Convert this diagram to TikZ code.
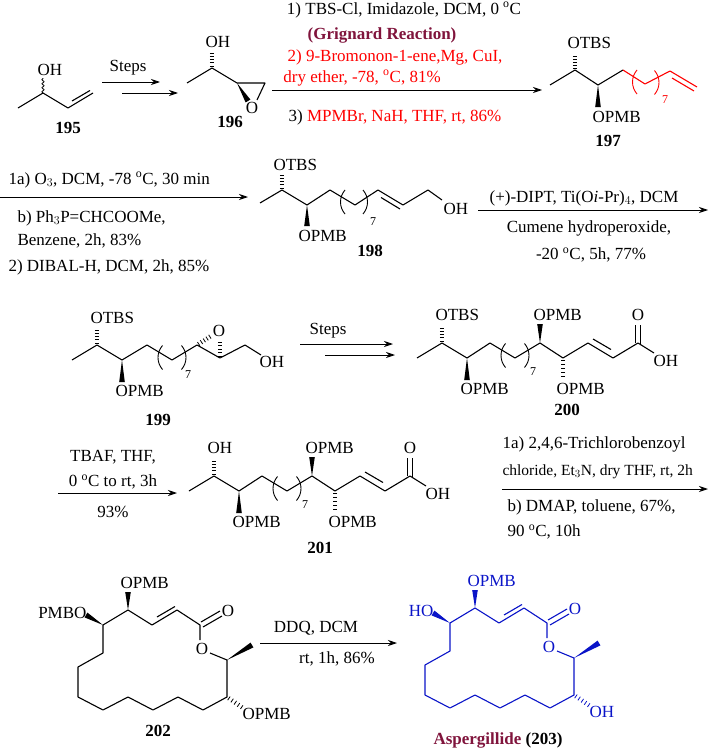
\documentclass[tikz,border=0pt]{standalone}
\usepackage{fontspec}
\setmainfont{Liberation Serif}
\usetikzlibrary{calc,arrows.meta,decorations.pathmorphing}
\definecolor{maroon}{RGB}{128,20,60}
\definecolor{cblue}{RGB}{10,20,200}
\newcommand\fs{\fontsize{17}{19}\selectfont}
\newcommand\dg{\textsuperscript{o}}
% stereo bonds and repeat brackets
\newcommand\wdg[2]{\fill ($(#1)$) -- ($(#2)!2.8pt!90:(#1)$) -- ($(#2)!2.8pt!-90:(#1)$) -- cycle;}
\newcommand\hsh[2]{\foreach \t in {0.12,0.32,0.52,0.72,0.92}{\path ($(#1)!\t!(#2)$) coordinate (hh);
  \draw[line width=0.8pt] ($(hh)!2.2pt!90:(#2)$) -- ($(hh)!2.2pt!-90:(#2)$);}}
\newcommand\lpar[1]{\draw[line width=0.9pt] ($(#1)+(3,-7)$) .. controls ($(#1)+(-3,0)$) and ($(#1)+(-3,10)$) .. ($(#1)+(3,17)$);}
\newcommand\rpar[1]{\draw[line width=0.9pt] ($(#1)+(-3,-7)$) .. controls ($(#1)+(3,0)$) and ($(#1)+(3,10)$) .. ($(#1)+(-3,17)$);}
\tikzset{
  grp/.style={inner sep=0pt, font=\fs},
  cmpd/.style={inner sep=0pt, font=\fs\bfseries},
  cond/.style={inner sep=0pt, font=\fs},
  sub/.style={inner sep=0pt, font=\fontsize{12}{13}\selectfont},
  rxn/.style={-{Stealth[length=9pt,width=6pt]}, line width=0.9pt},
}
% hydroxy acid skeleton (200 / 201)
\newcommand\acidchain[2]{%
  \draw (417,358) -- (442,343) -- (467,358) -- (490,343) -- (515,358) -- (540,343) -- (563,358) -- (588,343) -- (613,358) -- (638,343) -- (654,353);
  \draw (593,339) -- (611,349.5);
  \draw (635.5,343) -- (635.5,325) (640.5,344) -- (640.5,325);
  \hsh{442,343}{442,327} \wdg{467,358}{467,380}
  \wdg{540,343}{540,324} \hsh{563,358}{563,378}
  \lpar{502.5,350.5} \rpar{527.5,350.5}
  \node[sub] (#2sub) at (533,372) {7};
  \node[grp, anchor=west] (#2a) at (435,315) {#1};
  \node[grp, anchor=west] (#2b) at (460,389) {OPMB};
  \node[grp, anchor=west] (#2c) at (533,315) {OPMB};
  \node[grp, anchor=west] (#2d) at (556,389) {OPMB};
  \node[grp] (#2o) at (638,315) {O};
  \node[grp, anchor=west] (#2oh) at (653,361) {OH};
}
% macrolactone skeleton (202 / 203)
\newcommand\lactone[3]{%
  \draw (103,625) -- (128,610) -- (152,625) -- (177,610) -- (200,625) -- (200,640);
  \draw (157,617) -- (175,606.5);
  \draw (201,622) -- (220,611) (203,627) -- (222,616);
  \draw (210,653) -- (227,660) -- (227,697) -- (203,710) -- (178,697) -- (153,710) -- (128,697) -- (103,710) -- (78,697) -- (78,667) -- (103,653) -- (103,625);
  \wdg{103,625}{86,615} \wdg{128,610}{128,592}
  \wdg{227,660}{252,645} \hsh{227,697}{243,708}
  \node[grp, anchor=east] (#3a) at (87,613) {#1};
  \node[grp, anchor=west] (#3b) at (120,583) {OPMB};
  \node[grp] (#3o) at (228,611) {O};
  \node[grp] (#3r) at (202,649) {O};
  \node[grp, anchor=west] (#3c) at (242,714) {#2};
}
\begin{document}
\begin{tikzpicture}[x=1pt, y=-1pt, line width=1.1pt, line join=round]
\useasboundingbox (0,0) rectangle (709,752);

% 195
\draw (18,108) -- (43,93) -- (68,108) -- (93,93);
\draw (72,101) -- (90,90.5);
\draw[line width=0.8pt, decorate, decoration={snake, amplitude=1.2pt, segment length=4pt}] (43,93) -- (43,78);
\node[grp] (oh195) at (50,70) {OH};
\node[cmpd] (c195) at (68,128) {195};

\coordinate (s1a) at (102,82); \coordinate (s1b) at (160,82);
\coordinate (s1c) at (122,93); \coordinate (s1d) at (178,93);
\draw[rxn] (s1a) -- (s1b);
\draw[rxn] (s1c) -- (s1d);
\node[cond] (st1) at (128,68) {Steps};

% 196
\draw (187,83) -- (212,68) -- (237,83) -- (265,83) -- (257,100);
\wdg{237,83}{248,101}
\hsh{212,68}{212,52}
\node[grp] (oh196) at (218,42) {OH};
\node[grp] (o196) at (252,108) {O};
\node[cmpd] (c196) at (230,122) {196};

\coordinate (r1a) at (272,90); \coordinate (r1b) at (542,90);
\draw[rxn] (r1a) -- (r1b);
\node[cond] (t1) at (404,10) {1) TBS-Cl, Imidazole, DCM, 0 \dg C};
\node[cond, font=\fs\bfseries, text=maroon] (t2) at (382,35) {(Grignard Reaction)};
\node[cond, text=red] (t3) at (395,57) {2) 9-Bromonon-1-ene,Mg, CuI,};
\node[cond, text=red] (t4) at (362,78) {dry ether, -78, \dg C, 81\%};
\node[cond] (t5) at (395,117) {3) \textcolor{red}{MPMBr, NaH, THF, rt, 86\%}};

% 197
\draw (550,85) -- (575,70) -- (598,85) -- (623,70);
\begin{scope}[red]
\draw (623,70) -- (645,84) -- (670,71) -- (697,87);
\draw (672,78) -- (694,91);
\lpar{634,77} \rpar{657.5,77.5}
\node[sub] (n197) at (665,100) {7};
\end{scope}
\hsh{575,70}{575,55} \wdg{598,85}{598,107}
\node[grp, anchor=west] (g197a) at (567,43) {OTBS};
\node[grp, anchor=west] (g197b) at (592,117) {OPMB};
\node[cmpd] (c197) at (608,141) {197};

% arrow 197 -> 198
\coordinate (r2a) at (0,197); \coordinate (r2b) at (248,197);
\draw[rxn] (r2a) -- (r2b);
\node[cond, anchor=west] (t6) at (8,180) {1a) O$_3$, DCM, -78 \dg C, 30 min};
\node[cond, anchor=west] (t7) at (17,218) {b) Ph$_3$P=CHCOOMe,};
\node[cond, anchor=west] (t8) at (17,241) {Benzene, 2h, 83\%};
\node[cond, anchor=west] (t9) at (8,267) {2) DIBAL-H, DCM, 2h, 85\%};

% 198
\draw (260,203) -- (282,190) -- (307,205) -- (330,190) -- (355,205) -- (378,190) -- (403,205) -- (428,190) -- (442,200);
\draw (381,197.5) -- (400,209);
\hsh{282,190}{282,174} \wdg{307,205}{307,226}
\lpar{342,197} \rpar{366,197}
\node[sub] (n198) at (373,222) {7};
\node[grp, anchor=west] (g198a) at (273,165) {OTBS};
\node[grp, anchor=west] (g198b) at (298,236) {OPMB};
\node[grp, anchor=west] (g198c) at (443,209) {OH};
\node[cmpd] (c198) at (370,251) {198};

\coordinate (r3a) at (478,210); \coordinate (r3b) at (708,210);
\draw[rxn] (r3a) -- (r3b);
\node[cond] (t10) at (584,198) {(+)-DIPT, Ti(O\textit{i}-Pr)$_4$, DCM};
\node[cond] (t11) at (589,228) {Cumene hydroperoxide,};
\node[cond] (t12) at (591,255) {-20 \dg C, 5h, 77\%};

% 199
\draw (72,360) -- (97,345) -- (122,360) -- (147,345) -- (172,360) -- (197,345) -- (220,358) -- (245,345) -- (261,355);
\hsh{197,345}{211,336} \hsh{220,358}{220,341}
\hsh{97,345}{97,329} \wdg{122,360}{122,382}
\lpar{159.5,352.5} \rpar{184.5,352.5}
\node[sub] (n199) at (188,375) {7};
\node[grp] (o199) at (219,331) {O};
\node[grp, anchor=west] (g199a) at (90,318) {OTBS};
\node[grp, anchor=west] (g199b) at (115,391) {OPMB};
\node[grp, anchor=west] (g199c) at (259,362) {OH};
\node[cmpd] (c199) at (158,420) {199};

\coordinate (s2a) at (300,344); \coordinate (s2b) at (393,344);
\coordinate (s2c) at (325,355); \coordinate (s2d) at (395,355);
\draw[rxn] (s2a) -- (s2b);
\draw[rxn] (s2c) -- (s2d);
\node[cond] (st2) at (328,331) {Steps};

% 200 and 201
\acidchain{OTBS}{p}
\node[cmpd] (c200) at (567,410) {200};
\begin{scope}[shift={(-228,133)}]
\acidchain{OH}{q}
\end{scope}
\node[cmpd] (c201) at (320,548) {201};

\coordinate (r4a) at (58,493); \coordinate (r4b) at (177,493);
\draw[rxn] (r4a) -- (r4b);
\node[cond] (t13) at (113,457) {TBAF, THF,};
\node[cond] (t14) at (113,482) {0 \dg C to rt, 3h};
\node[cond] (t15) at (113,512) {93\%};

\coordinate (r5a) at (502,489); \coordinate (r5b) at (708,489);
\draw[rxn] (r5a) -- (r5b);
\node[cond, anchor=west] (t16) at (502,444) {1a) 2,4,6-Trichlorobenzoyl};
\node[cond, anchor=west, font=\fontsize{15.5}{17}\selectfont] (t17) at (502,472) {chloride, Et$_3$N, dry THF, rt, 2h};
\node[cond, anchor=west] (t18) at (507,507) {b) DMAP, toluene, 67\%,};
\node[cond, anchor=west] (t19) at (507,532) {90 \dg C, 10h};

% 202
\lactone{PMBO}{OPMB}{m}
\node[cmpd] (c202) at (158,731) {202};

\coordinate (r6a) at (260,643); \coordinate (r6b) at (397,643);
\draw[rxn] (r6a) -- (r6b);
\node[cond] (t20) at (316,628) {DDQ, DCM};
\node[cond] (t21) at (337,659) {rt, 1h, 86\%};

% 203
\begin{scope}[shift={(347,-2)}, cblue]
\lactone{HO}{OH}{n}
\end{scope}
\node[cmpd] (c203) at (498,740) {\textcolor{maroon}{Aspergillide} (203)};
\end{tikzpicture}
\end{document}
